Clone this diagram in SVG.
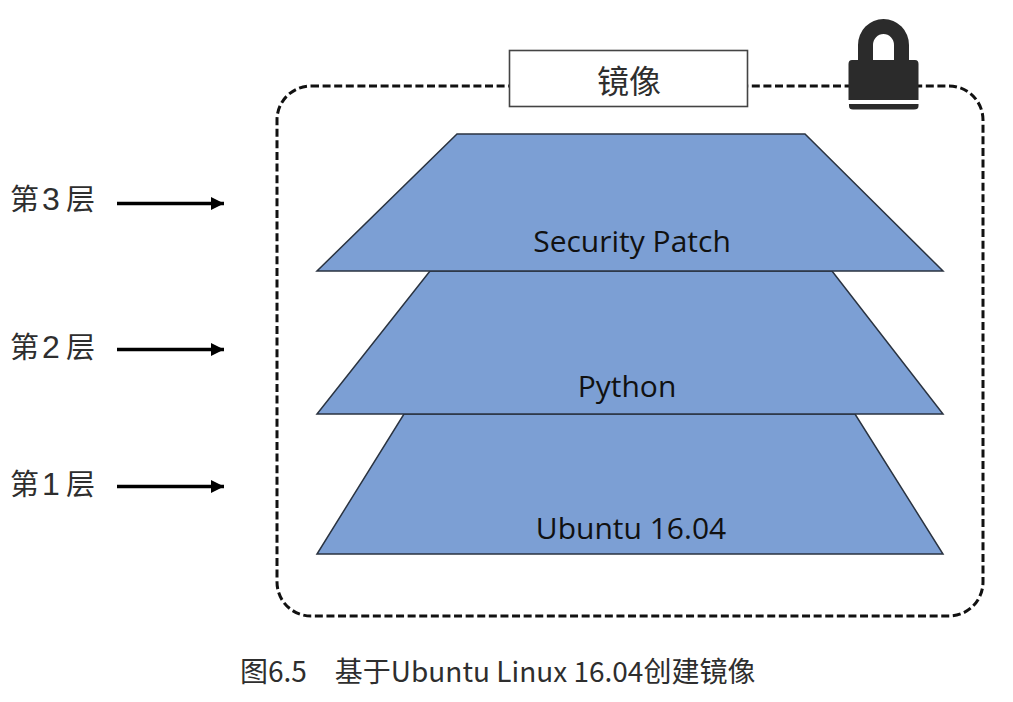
<svg xmlns="http://www.w3.org/2000/svg" width="1013" height="702" viewBox="0 0 1013 702">
<defs>
<style>
.cjk{font-family:"Noto Sans CJK SC","Noto Sans",sans-serif;fill:#2e2e2e}
.lbl{font-family:"Open Sans","Noto Sans",sans-serif;font-size:30px;fill:#111;text-anchor:middle}
.side{font-size:29px}
.num{font-family:"Liberation Sans",Arial,sans-serif;font-size:32px}
.layer{fill:#7c9fd4;stroke:#2a3340;stroke-width:1.5}
.arrow{stroke:#000;stroke-width:3.6;fill:none;marker-end:url(#ah)}
</style>
<marker id="ah" markerUnits="userSpaceOnUse" markerWidth="14" markerHeight="14" refX="13" refY="6.500" orient="auto"><path d="M0 0L13 6.500L0 13Z" fill="#000"/></marker>
</defs>
<rect width="1013" height="702" fill="#fff"/>
<rect id="frame" x="277" y="86" width="706" height="530" rx="34" fill="none" stroke="#111" stroke-width="3" stroke-dasharray="8 3.600"/>
<g id="title"><rect x="509.500" y="50.500" width="238" height="56" fill="#fff" stroke="#444" stroke-width="1.600"/><text class="cjk" x="629" y="93" font-size="32" text-anchor="middle">镜像</text></g>
<g id="lock" fill="#2b2b2b">
<path fill-rule="evenodd" d="M858 62V45A25.500 26 0 0 1 909 45V62ZM873 61H894V45A10.500 11 0 0 0 873 45Z"/>
<path d="M852 60H915Q918.500 60 918.500 64V100H848.500V64Q848.500 60 852 60Z"/>
<path d="M849 104H918.500V106Q918.500 109.500 914 109.500H853Q849 109.500 849 106Z"/>
</g>
<g id="layer1"><path class="layer" d="M404 414H855L943 554H317Z"/><text class="lbl" x="631" y="539">Ubuntu 16.04</text></g>
<g id="layer2"><path class="layer" d="M430 271H832L943 414H317Z"/><text class="lbl" x="627" y="397">Python</text></g>
<g id="layer3"><path class="layer" d="M457 134H805L943 271H317Z"/><text class="lbl" x="632" y="252">Security Patch</text></g>
<g id="label3"><text class="cjk side" x="10" y="210">第<tspan class="num" x="42">3</tspan><tspan x="66">层</tspan></text></g>
<g id="label2"><text class="cjk side" x="10" y="358">第<tspan class="num" x="42">2</tspan><tspan x="66">层</tspan></text></g>
<g id="label1"><text class="cjk side" x="10" y="495">第<tspan class="num" x="42">1</tspan><tspan x="66">层</tspan></text></g>
<g id="connectors">
<path class="arrow" d="M117 203.500H224"/>
<path class="arrow" d="M117 349.500H224"/>
<path class="arrow" d="M117 486.500H224"/>
</g>
<text id="caption" class="cjk" x="240" y="682" font-size="28">图6.5　基于Ubuntu Linux 16.04创建镜像</text>
</svg>
